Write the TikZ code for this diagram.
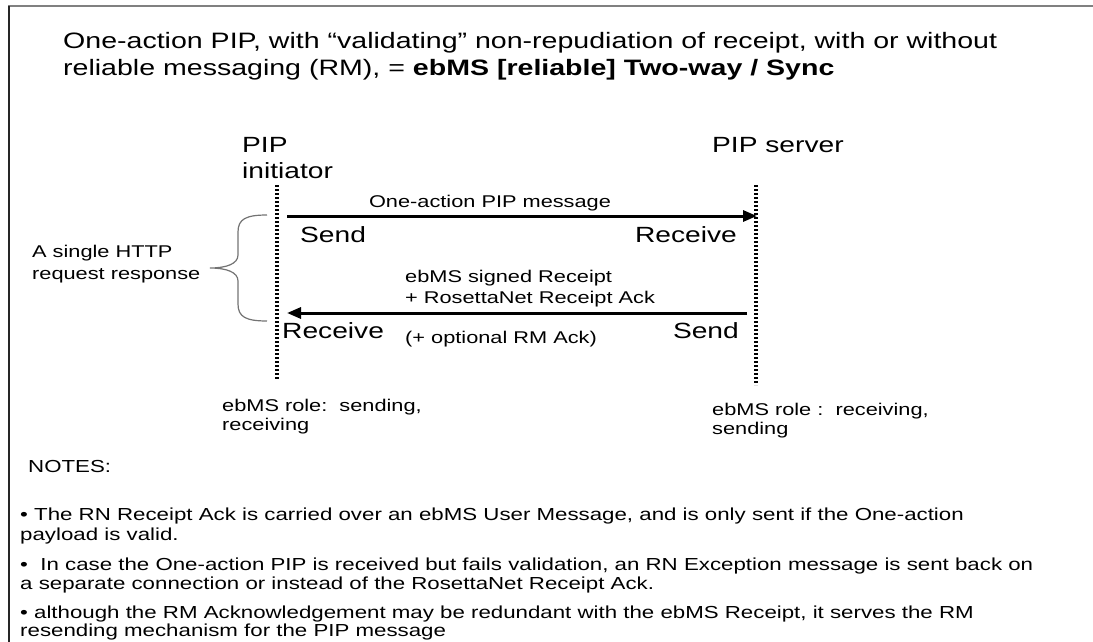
\documentclass[tikz,border=0pt]{standalone}
\usepackage{fontspec}
\setmainfont{Liberation Sans}[FakeStretch=1.28]
\usetikzlibrary{arrows.meta}
\tikzset{
  big/.style={inner sep=0pt, font=\fontsize{22}{26}\selectfont},
  med/.style={inner sep=0pt, font=\fontsize{17}{20}\selectfont},
  note/.style={inner sep=0pt, font=\fontsize{17.4}{20}\selectfont},
  lifeline/.style={line width=3.4pt, dash pattern=on 2.4pt off 1.6pt},
  msg/.style={line width=3pt, -{Triangle[length=14pt,width=11pt]}},
  brace/.style={draw=black!55, line width=1.2pt},
}
\begin{document}
\begin{tikzpicture}[x=1pt,y=-1pt]
\useasboundingbox (0,0) rectangle (1093,642);
% frame
\draw[black!50, line width=2pt] (8,6.5) -- (1093,6.5);
\draw[black!85, line width=2pt] (9,6) -- (9,642);
% title
\node[big, anchor=base west, font=\fontsize{22.3}{26}\selectfont] (t1) at (63,49) {One-action PIP, with “validating” non-repudiation of receipt, with or without};
\node[big, anchor=base west, font=\fontsize{22.3}{26}\selectfont] (t2) at (63,76) {reliable messaging (RM), = \textbf{ebMS [reliable] Two-way / Sync}};
% participants
\node[big, anchor=base west] (pip) at (242,152) {PIP};
\node[big, anchor=base west] (init) at (242,178) {initiator};
\node[big, anchor=base west] (srv) at (712,152) {PIP server};
% lifelines
\coordinate (Lt) at (277,185);
\coordinate (Lb) at (277,380);
\coordinate (Rt) at (756,185);
\coordinate (Rb) at (756,385);
\draw[lifeline] (Lt) -- (Lb);
\draw[lifeline] (Rt) -- (Rb);
% message 1
\coordinate (m1s) at (287,216);
\coordinate (m1e) at (757,216);
\draw[msg] (m1s) -- (m1e);
\node[med, anchor=base] (m1lab) at (490,207) {One-action PIP message};
\node[big, anchor=base west] (send1) at (300,242) {Send};
\node[big, anchor=base east] (recv1) at (737,242) {Receive};
% message 2
\coordinate (m2s) at (747,313);
\coordinate (m2e) at (287,313);
\draw[msg] (m2s) -- (m2e);
\node[med, anchor=base west] (m2a) at (405,282) {ebMS signed Receipt};
\node[med, anchor=base west] (m2b) at (405,303) {+ RosettaNet Receipt Ack};
\node[med, anchor=base west] (m2c) at (405,343) {(+ optional RM Ack)};
\node[big, anchor=base west] (recv2) at (282,338) {Receive};
\node[big, anchor=base east] (send2) at (739,338) {Send};
% brace
\coordinate (bt) at (267,215);
\coordinate (bb) at (267,321);
\coordinate (btip) at (210,268);
\draw[brace] (bt) .. controls (246,215) and (238,219) .. (238,232) -- (238,255)
  .. controls (238,264) and (226,268) .. (btip)
  .. controls (226,268) and (238,272) .. (238,281) -- (238,304)
  .. controls (238,317) and (246,321) .. (bb);
\node[med, anchor=base west] (h1) at (32,257) {A single HTTP};
\node[med, anchor=base west] (h2) at (32,279) {request response};
% roles
\node[med, anchor=base west] (r1a) at (222,411) {ebMS role:\ \ sending,};
\node[med, anchor=base west] (r1b) at (222,430) {receiving};
\node[med, anchor=base west] (r2a) at (712,415) {ebMS role\ :\ \ receiving,};
\node[med, anchor=base west] (r2b) at (712,434) {sending};
% notes
\node[note, anchor=base west] (n0) at (28,472) {NOTES:};
\node[note, anchor=base west] (n1) at (20,520) {• The RN Receipt Ack is carried over an ebMS User Message, and is only sent if the One-action};
\node[note, anchor=base west] (n1b) at (20,540) {payload is valid.};
\node[note, anchor=base west] (n2) at (20,570) {•\ \ In case the One-action PIP is received but fails validation, an RN Exception message is sent back on};
\node[note, anchor=base west] (n2b) at (20,589) {a separate connection or instead of the RosettaNet Receipt Ack.};
\node[note, anchor=base west] (n3) at (20,618) {• although the RM Acknowledgement may be redundant with the ebMS Receipt, it serves the RM};
\node[note, anchor=base west] (n3b) at (20,636) {resending mechanism for the PIP message};
\end{tikzpicture}
\end{document}
